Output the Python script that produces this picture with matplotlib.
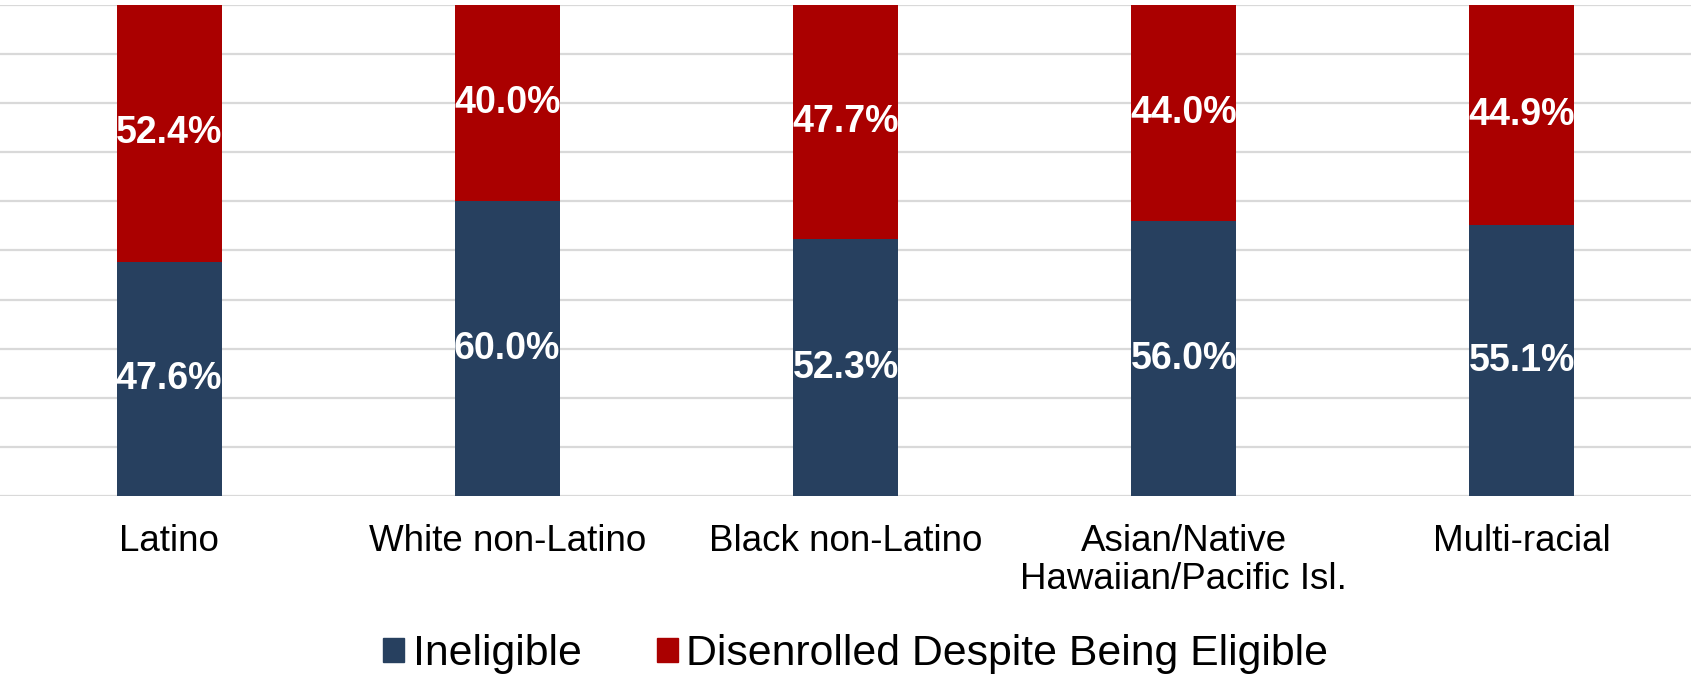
import matplotlib.pyplot as plt
from matplotlib.patches import Patch

categories = ["Latino", "White non-Latino", "Black non-Latino",
              "Asian/Native\nHawaiian/Pacific Isl.", "Multi-racial"]
ineligible = [47.6, 60.0, 52.3, 56.0, 55.1]
disenrolled = [52.4, 40.0, 47.7, 44.0, 44.9]
series_names = ["Ineligible", "Disenrolled Despite Being Eligible"]

BLUE = "#27405F"
RED = "#AA0000"

plt.rcParams["font.family"] = ["Liberation Sans", "DejaVu Sans"]

fig = plt.figure(figsize=(16.91, 6.76), dpi=100)
ax = fig.add_axes([0.0, 0.266, 1.0, 0.727])

x = list(range(len(categories)))
b1 = ax.bar(x, ineligible, width=0.31, color=BLUE, zorder=3)
b2 = ax.bar(x, disenrolled, width=0.31, bottom=ineligible, color=RED, zorder=3)

for bars, vals in ((b1, ineligible), (b2, disenrolled)):
    ax.bar_label(bars, labels=[f"{v:.1f}%" for v in vals], label_type="center",
                 color="white", fontsize=27, fontweight="bold")

ax.set_xlim(-0.5, 4.5)
ax.set_ylim(0, 100)
ax.set_yticks(range(0, 101, 10))
ax.set_yticklabels([])
ax.tick_params(axis="y", length=0)
ax.set_xticks(x)
ax.set_xticklabels(categories, fontsize=26.5, linespacing=1.1)
ax.tick_params(axis="x", length=0, pad=20)
ax.grid(axis="y", color="#d9d9d9", linewidth=1.6, zorder=0)
for s in ax.spines.values():
    s.set_visible(False)

handles = [Patch(color=BLUE), Patch(color=RED)]
fig.legend(handles, series_names, loc="center", ncol=2,
           bbox_to_anchor=(0.506, 1 - 654 / 676), frameon=False,
           fontsize=30.8, handlelength=0.5, handleheight=0.5,
           handletextpad=0.2, columnspacing=1.75)

fig.savefig("out.png", dpi=100)
